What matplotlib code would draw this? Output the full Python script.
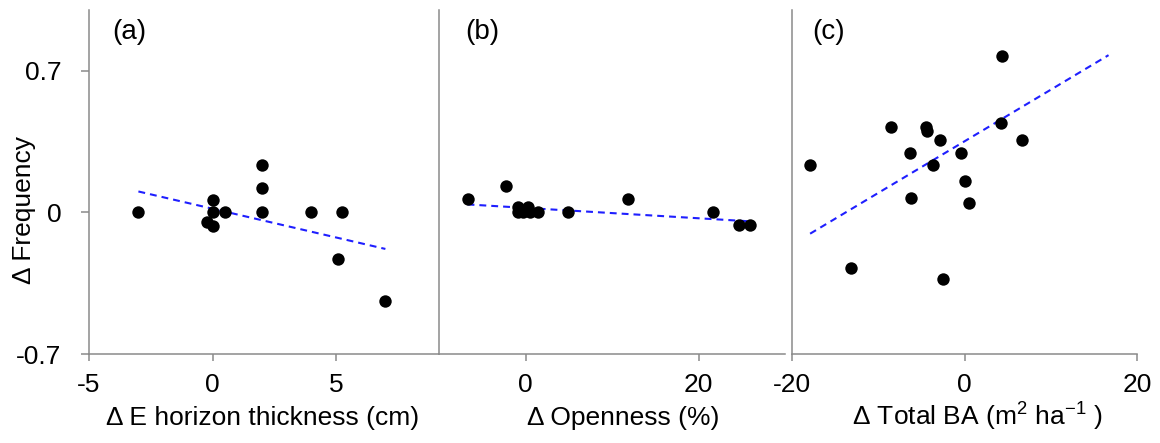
import numpy as np
import matplotlib.pyplot as plt

# Panel (a): change in E horizon thickness (cm)
a_x = [-3.0, 0.0, 0.0, -0.23, 0.0, 0.5, 2.0, 2.0, 2.0, 4.0, 5.25, 5.1, 7.0]
a_y = [0.0, 0.06, 0.0, -0.048, -0.069, 0.0, 0.235, 0.122, 0.0, 0.0, 0.0, -0.23, -0.44]
a_fit = (0.018, -0.0284)   # intercept, slope
a_fit_x = [-3.0, 7.0]

# Panel (b): change in openness (%)
b_x = [-6.7, -2.3, -0.9, 0.3, -0.9, -0.3, 0.5, 1.5, 4.9, 11.8, 21.7, 24.7, 25.9]
b_y = [0.064, 0.13, 0.026, 0.026, 0.0, 0.0, 0.0, 0.0, 0.0, 0.064, 0.0, -0.062, -0.062]
b_fit = (0.022, -0.00256)
b_fit_x = [-6.7, 25.7]

# Panel (c): change in total basal area (m2 ha-1)
c_x = [-17.9, -13.2, -8.55, -6.36, -6.24, -4.5, -4.3, -2.89, -3.62, -2.47,
       -0.35, 0.0, 0.5, 4.24, 4.39, 6.67]
c_y = [0.235, -0.276, 0.42, 0.294, 0.071, 0.42, 0.404, 0.36, 0.235, -0.327,
       0.294, 0.153, 0.046, 0.44, 0.775, 0.36]
c_fit = (0.351, 0.0255)
c_fit_x = [-17.9, 16.7]

y_ticks = [-0.7, 0, 0.7]
y_ticklabels = ['-0.7', '0', '0.7']

panels = [
    ('(a)', a_x, a_y, a_fit, a_fit_x, (-5, 9.17), [-5, 0, 5], ['-5', '0', '5'],
     'Δ E horizon thickness (cm)', 0.497, 0.066),
    ('(b)', b_x, b_y, b_fit, b_fit_x, (-10, 30), [0, 20], ['0', '20'],
     'Δ Openness (%)', 0.532, 0.075),
    ('(c)', c_x, c_y, c_fit, c_fit_x, (-20, 20), [-20, 0, 20], ['-20', '0', '20'],
     r'Δ Total BA (m$^\mathregular{2}$ ha$^\mathregular{-1}$ )', 0.536, 0.058),
]

plt.rcParams['font.family'] = ['Liberation Sans', 'DejaVu Sans']

W, H = 1160, 443
fig = plt.figure(figsize=(W / 100, H / 100), dpi=100)

# axes boxes in pixels: left, right
boxes = [(89, 439), (439, 785), (792, 1137)]
top, bottom = 10, 354
gray = '#8a8a8a'
fs = 19

for i, (tag, xs, ys, fit, fit_x, xlim, xt, xtl, xlabel, lx, tx) in enumerate(panels):
    l, r = boxes[i]
    ax = fig.add_axes([l / W, (H - bottom) / H, (r - l) / W, (bottom - top) / H])
    ax.scatter(xs, ys, s=80, color='black', zorder=3, linewidths=0)
    fx = np.array(fit_x)
    ax.plot(fx, fit[0] + fit[1] * fx, linestyle=(0, (3.3, 2.4)), color='#1f1fff',
            linewidth=1.5, zorder=2)
    ax.set_xlim(*xlim)
    ax.set_ylim(-0.7, 1.0)
    ax.set_xticks(xt)
    ax.set_xticklabels(xtl, fontsize=fs)
    for s in ['top', 'right']:
        ax.spines[s].set_visible(False)
    for s in ['left', 'bottom']:
        ax.spines[s].set_color(gray)
        ax.spines[s].set_linewidth(1.1)
    ax.tick_params(axis='x', direction='out', length=5, width=1.1, color=gray, pad=9)
    if i == 0:
        ax.set_yticks(y_ticks)
        ax.set_yticklabels(y_ticklabels, fontsize=fs)
        ax.tick_params(axis='y', direction='out', length=6, width=1.1, color=gray, pad=14)
    else:
        ax.set_yticks([])
    ax.set_xlabel(xlabel, fontsize=fs, labelpad=0)
    ax.xaxis.set_label_coords(lx, -0.206)
    ax.xaxis.label.set_va('baseline')
    ax.text(tx, 0.935, tag, transform=ax.transAxes, fontsize=fs + 1, va='center', ha='left')

fig.text(24 / W, 1 - 210 / H, 'Δ Frequency', rotation=90, fontsize=fs,
         ha='center', va='center')

fig.savefig('out.png', dpi=100)
